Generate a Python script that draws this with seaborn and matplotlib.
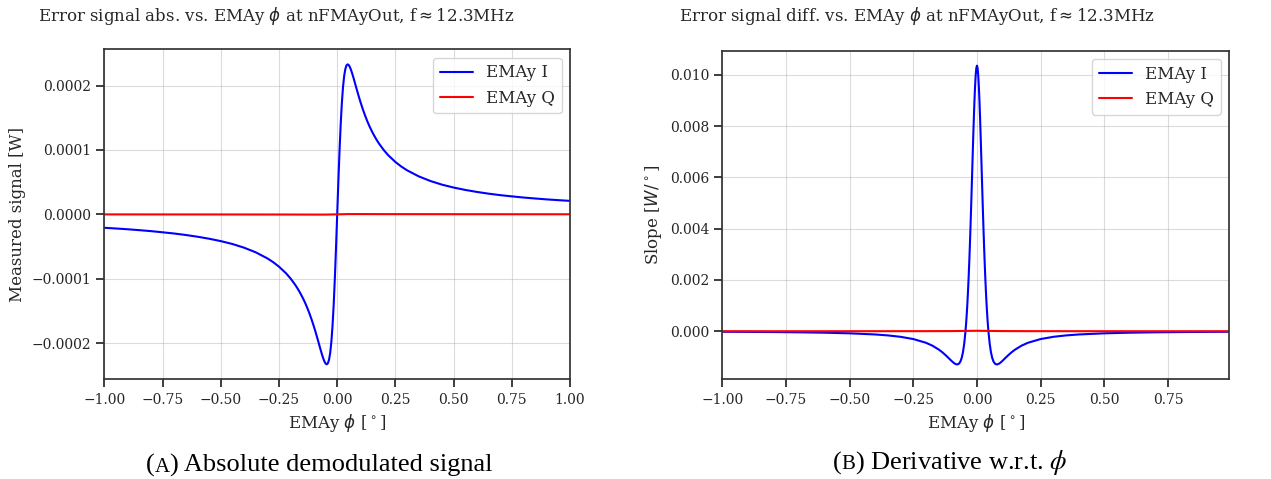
import numpy as np
import matplotlib
matplotlib.use('Agg')
import matplotlib.pyplot as plt
from matplotlib.offsetbox import TextArea, HPacker, AnnotationBbox
import seaborn as sns

# EMAy phi sweep (degrees), absolute demodulated signal [W]
phi = [-1.0, -0.95, -0.9, -0.85, -0.8, -0.75, -0.7, -0.65, -0.6, -0.55, -0.5, -0.45,
       -0.4, -0.35, -0.3, -0.275, -0.25, -0.22, -0.2, -0.18, -0.17, -0.16, -0.15,
       -0.14, -0.13, -0.12, -0.11, -0.1, -0.095, -0.09, -0.085, -0.08, -0.075, -0.07,
       -0.065, -0.06, -0.055, -0.05, -0.045, -0.04, -0.035, -0.03, -0.025, -0.02,
       -0.015, -0.01, -0.005, 0.0, 0.005, 0.01, 0.015, 0.02, 0.025, 0.03, 0.035,
       0.04, 0.045, 0.05, 0.055, 0.06, 0.065, 0.07, 0.075, 0.08, 0.085, 0.09, 0.095,
       0.1, 0.11, 0.12, 0.13, 0.14, 0.15, 0.16, 0.17, 0.18, 0.2, 0.22, 0.25, 0.275,
       0.3, 0.35, 0.4, 0.45, 0.5, 0.55, 0.6, 0.65, 0.7, 0.75, 0.8, 0.85, 0.9, 0.95, 1.0]
signal_i = [-2.09e-5, -2.20e-5, -2.32e-5, -2.46e-5, -2.61e-5, -2.79e-5, -2.98e-5,
            -3.21e-5, -3.48e-5, -3.79e-5, -4.16e-5, -4.61e-5, -5.18e-5, -5.90e-5,
            -6.84e-5, -7.43e-5, -8.13e-5, -9.15e-5, -9.98e-5, -1.097e-4, -1.153e-4,
            -1.215e-4, -1.283e-4, -1.357e-4, -1.440e-4, -1.532e-4, -1.633e-4, -1.744e-4,
            -1.803e-4, -1.864e-4, -1.927e-4, -1.991e-4, -2.056e-4, -2.120e-4, -2.181e-4,
            -2.237e-4, -2.284e-4, -2.317e-4, -2.330e-4, -2.314e-4, -2.258e-4, -2.151e-4,
            -1.978e-4, -1.729e-4, -1.398e-4, -9.87e-5, -5.11e-5, 0.0, 5.11e-5, 9.87e-5,
            1.398e-4, 1.729e-4, 1.978e-4, 2.151e-4, 2.258e-4, 2.314e-4, 2.330e-4,
            2.317e-4, 2.284e-4, 2.237e-4, 2.181e-4, 2.120e-4, 2.056e-4, 1.991e-4,
            1.927e-4, 1.864e-4, 1.803e-4, 1.744e-4, 1.633e-4, 1.532e-4, 1.440e-4,
            1.357e-4, 1.283e-4, 1.215e-4, 1.153e-4, 1.097e-4, 9.98e-5, 9.15e-5, 8.13e-5,
            7.43e-5, 6.84e-5, 5.90e-5, 5.18e-5, 4.61e-5, 4.16e-5, 3.79e-5, 3.48e-5,
            3.21e-5, 2.98e-5, 2.79e-5, 2.61e-5, 2.46e-5, 2.32e-5, 2.20e-5, 2.09e-5]
phi_q = [-1.0, -0.5, -0.2, -0.1, -0.05, 0.0, 0.05, 0.1, 0.2, 0.5, 1.0]
signal_q = [-1e-7, -2e-7, -3e-7, -4e-7, -4e-7, 0.0, 4e-7, 4e-7, 3e-7, 2e-7, 1e-7]

# slope of the signal [W/deg]
phi_d = [-1.0, -0.9, -0.8, -0.7, -0.6, -0.5, -0.4, -0.35, -0.3, -0.25, -0.2, -0.175,
         -0.15, -0.135, -0.12, -0.11, -0.1, -0.09, -0.085, -0.08, -0.075, -0.07,
         -0.065, -0.06, -0.055, -0.05, -0.045, -0.0425, -0.04, -0.0375, -0.035,
         -0.0325, -0.03, -0.0275, -0.025, -0.0225, -0.02, -0.0175, -0.015, -0.0125,
         -0.01, -0.0075, -0.005, -0.0025, 0.0, 0.0025, 0.005, 0.0075, 0.01, 0.0125,
         0.015, 0.0175, 0.02, 0.0225, 0.025, 0.0275, 0.03, 0.0325, 0.035, 0.0375,
         0.04, 0.0425, 0.045, 0.05, 0.055, 0.06, 0.065, 0.07, 0.075, 0.08, 0.085,
         0.09, 0.1, 0.11, 0.12, 0.135, 0.15, 0.175, 0.2, 0.25, 0.3, 0.35, 0.4, 0.5,
         0.6, 0.7, 0.8, 0.9, 0.99]
slope_i = [-2.08e-5, -2.57e-5, -3.25e-5, -4.23e-5, -5.73e-5, -8.19e-5, -1.26e-4,
           -1.63e-4, -2.18e-4, -3.05e-4, -4.51e-4, -5.63e-4, -7.15e-4, -8.28e-4,
           -9.62e-4, -1.059e-3, -1.157e-3, -1.243e-3, -1.274e-3, -1.293e-3, -1.290e-3,
           -1.257e-3, -1.181e-3, -1.044e-3, -8.22e-4, -4.86e-4, 0.0, 3.13e-4, 6.78e-4,
           1.102e-3, 1.588e-3, 2.140e-3, 2.757e-3, 3.440e-3, 4.181e-3, 4.971e-3,
           5.795e-3, 6.632e-3, 7.456e-3, 8.236e-3, 8.939e-3, 9.531e-3, 9.980e-3,
           1.0260e-2, 1.0356e-2, 1.0260e-2, 9.980e-3, 9.531e-3, 8.939e-3, 8.236e-3,
           7.456e-3, 6.632e-3, 5.795e-3, 4.971e-3, 4.181e-3, 3.440e-3, 2.757e-3,
           2.140e-3, 1.588e-3, 1.102e-3, 6.78e-4, 3.13e-4, 0.0, -4.86e-4, -8.22e-4,
           -1.044e-3, -1.181e-3, -1.257e-3, -1.290e-3, -1.293e-3, -1.274e-3, -1.243e-3,
           -1.157e-3, -1.059e-3, -9.62e-4, -8.28e-4, -7.15e-4, -5.63e-4, -4.51e-4,
           -3.05e-4, -2.18e-4, -1.63e-4, -1.26e-4, -8.19e-5, -5.73e-5, -4.23e-5,
           -3.25e-5, -2.57e-5, -2.1e-5]
phi_dq = [-1.0, -0.5, -0.2, -0.1, -0.05, 0.0, 0.05, 0.1, 0.2, 0.5, 0.99]
slope_q = [0.0, 1e-6, 3e-6, 6e-6, 1.2e-5, 1.8e-5, 1.2e-5, 6e-6, 3e-6, 1e-6, 0.0]

sns.set_theme(style='ticks', rc={
    'axes.edgecolor': '0.2',
    'xtick.labelsize': 10,
    'ytick.labelsize': 10,
    'axes.labelsize': 12,
    'legend.fontsize': 12,
    'lines.linewidth': 1.5,
})
plt.rcParams['font.family'] = ['DejaVu Serif']
plt.rcParams['mathtext.fontset'] = 'dejavusans'

fig = plt.figure(figsize=(12.71, 4.79), dpi=100)
ax_abs = fig.add_axes([0.0821, 0.2081, 0.3664, 0.6889])
ax_diff = fig.add_axes([0.5683, 0.2081, 0.3987, 0.6860])

sns.lineplot(x=phi, y=signal_i, color='blue', label='EMAy I', ax=ax_abs)
sns.lineplot(x=phi_q, y=signal_q, color='red', label='EMAy Q', ax=ax_abs)
ax_abs.set_xlim(-1, 1)
ax_abs.set_ylabel('Measured signal [W]')

sns.lineplot(x=phi_d, y=slope_i, color='blue', label='EMAy I', ax=ax_diff)
sns.lineplot(x=phi_dq, y=slope_q, color='red', label='EMAy Q', ax=ax_diff)
ax_diff.set_xlim(-1, 0.99)
ax_diff.set_ylabel(r'Slope [$W/^\circ$]')

for ax in (ax_abs, ax_diff):
    ax.set_xlabel(r'EMAy $\phi$ [$^\circ$]')
    ax.grid(True, color='#b0b0b0', alpha=0.45, linewidth=0.8)
    ax.legend(loc='upper right', fontsize=12)

fig.text(0.217, 0.966, r'Error signal abs. vs. EMAy $\phi$ at nFMAyOut, f$\approx$12.3MHz',
         ha='center', va='center', fontsize=12)
fig.text(0.721, 0.966, r'Error signal diff. vs. EMAy $\phi$ at nFMAyOut, f$\approx$12.3MHz',
         ha='center', va='center', fontsize=12)


def caption(x, letter, rest):
    # sub-figure caption with a small-caps letter, as LaTeX prints it
    props = dict(fontsize=19, family=['Liberation Serif', 'DejaVu Serif'],
                 math_fontfamily='stix', color='black')
    small = dict(props, fontsize=15)
    parts = [TextArea('(', textprops=props), TextArea(letter, textprops=small),
             TextArea(rest, textprops=props)]
    box = HPacker(children=parts, align='baseline', pad=0, sep=0)
    fig.add_artist(AnnotationBbox(box, (x, 0.004), xycoords='figure fraction',
                                  frameon=False, box_alignment=(0.5, 0)))


caption(0.251, 'A', ') Absolute demodulated signal')
caption(0.7474, 'B', r') Derivative w.r.t. $\phi$')

fig.savefig('out.png', dpi=100)
